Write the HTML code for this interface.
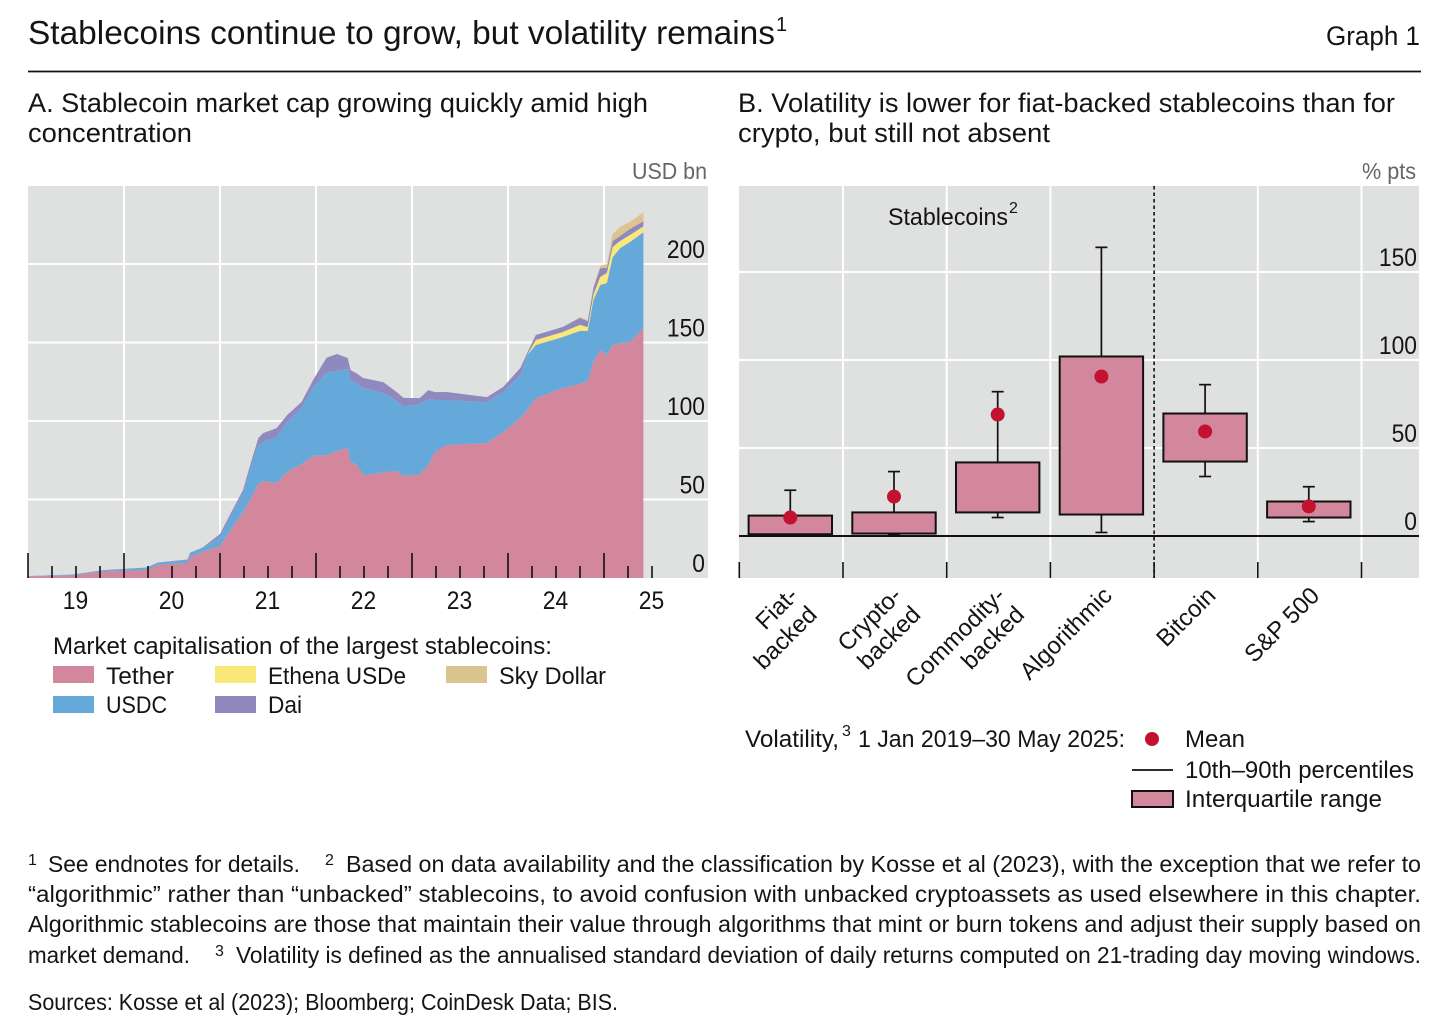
<!DOCTYPE html>
<html lang="en">
<head>
<meta charset="utf-8">
<title>Stablecoins continue to grow, but volatility remains</title>
<style>
html,body{margin:0;padding:0;background:#fff;}
svg{display:block;}
text{font-family:"Liberation Sans",sans-serif;fill:#141414;}
.title{font-size:33px;}
.panel{font-size:27px;}
.tick{font-size:25px;}
.cat{font-size:24px;}
.unit{font-size:23px;fill:#666;}
.leg{font-size:24px;}
.note{font-size:23px;}
.sup{font-size:16px;}
</style>
</head>
<body>
<svg id="graph" xmlns="http://www.w3.org/2000/svg" width="1456" height="1031" viewBox="0 0 1456 1031">
  <rect x="0" y="0" width="1456" height="1031" fill="#fff"/>
  <text class="title" x="28" y="44" textLength="747" lengthAdjust="spacingAndGlyphs">Stablecoins continue to grow, but volatility remains</text>
  <text style="font-size:20px" x="776" y="31">1</text>
  <text x="1326" y="45" style="font-size:27px" textLength="94" lengthAdjust="spacingAndGlyphs">Graph 1</text>
  <line x1="28" x2="1421" y1="71.5" y2="71.5" stroke="#111" stroke-width="1.8"/>

  <text class="panel" x="28" y="112" textLength="620" lengthAdjust="spacingAndGlyphs">A. Stablecoin market cap growing quickly amid high</text>
  <text class="panel" x="28" y="142" textLength="164" lengthAdjust="spacingAndGlyphs">concentration</text>
  <text class="panel" x="738" y="112" textLength="657" lengthAdjust="spacingAndGlyphs">B. Volatility is lower for fiat-backed stablecoins than for</text>
  <text class="panel" x="738" y="142" textLength="312" lengthAdjust="spacingAndGlyphs">crypto, but still not absent</text>
  <text class="unit" x="632" y="179" textLength="75" lengthAdjust="spacingAndGlyphs">USD bn</text>
  <text class="unit" x="1362" y="179" textLength="54" lengthAdjust="spacingAndGlyphs">% pts</text>

  <g id="panelA"></g>
  <g id="panelB"></g>

  <text class="leg" x="888" y="225" textLength="120" lengthAdjust="spacingAndGlyphs">Stablecoins</text>
  <text class="sup" x="1009" y="213">2</text>

  <g>
    <text class="leg" x="53" y="654" textLength="499" lengthAdjust="spacingAndGlyphs">Market capitalisation of the largest stablecoins:</text>
    <rect x="53" y="666" width="41" height="17" fill="#d2879c"/>
    <text class="leg" x="106" y="684" textLength="68" lengthAdjust="spacingAndGlyphs">Tether</text>
    <rect x="53" y="696" width="41" height="17" fill="#65a9da"/>
    <text class="leg" x="106" y="713" textLength="61" lengthAdjust="spacingAndGlyphs">USDC</text>
    <rect x="215" y="666" width="41" height="17" fill="#f9e878"/>
    <text class="leg" x="268" y="684" textLength="138" lengthAdjust="spacingAndGlyphs">Ethena USDe</text>
    <rect x="215" y="696" width="41" height="17" fill="#9089bf"/>
    <text class="leg" x="268" y="713" textLength="34" lengthAdjust="spacingAndGlyphs">Dai</text>
    <rect x="446" y="666" width="41" height="17" fill="#dcc48e"/>
    <text class="leg" x="499" y="684" textLength="107" lengthAdjust="spacingAndGlyphs">Sky Dollar</text>
  </g>

  <g>
    <text class="leg" x="745" y="747" textLength="94" lengthAdjust="spacingAndGlyphs">Volatility,</text>
    <text class="sup" x="842" y="736">3</text>
    <text class="leg" x="858" y="747" textLength="267" lengthAdjust="spacingAndGlyphs">1 Jan 2019–30 May 2025:</text>
    <circle cx="1152" cy="739" r="7" fill="#c2122f"/>
    <text class="leg" x="1185" y="747" textLength="60" lengthAdjust="spacingAndGlyphs">Mean</text>
    <line x1="1132" x2="1173" y1="770" y2="770" stroke="#111" stroke-width="1.8"/>
    <text class="leg" x="1185" y="778" textLength="229" lengthAdjust="spacingAndGlyphs">10th–90th percentiles</text>
    <rect x="1132" y="791" width="41" height="16" fill="#d2879c" stroke="#111" stroke-width="2"/>
    <text class="leg" x="1185" y="807" textLength="197" lengthAdjust="spacingAndGlyphs">Interquartile range</text>
  </g>

  <g>
    <text class="sup" x="28" y="865">1</text>
    <text class="note" x="48" y="872" textLength="252" lengthAdjust="spacingAndGlyphs">See endnotes for details.</text>
    <text class="sup" x="325" y="865">2</text>
    <text class="note" x="346" y="872" textLength="1075" lengthAdjust="spacingAndGlyphs">Based on data availability and the classification by Kosse et al (2023), with the exception that we refer to</text>
    <text class="note" x="28" y="902" textLength="1393" lengthAdjust="spacingAndGlyphs">“algorithmic” rather than “unbacked” stablecoins, to avoid confusion with unbacked cryptoassets as used elsewhere in this chapter.</text>
    <text class="note" x="28" y="932" textLength="1393" lengthAdjust="spacingAndGlyphs">Algorithmic stablecoins are those that maintain their value through algorithms that mint or burn tokens and adjust their supply based on</text>
    <text class="note" x="28" y="963" textLength="162" lengthAdjust="spacingAndGlyphs">market demand.</text>
    <text class="sup" x="215" y="956">3</text>
    <text class="note" x="236" y="963" textLength="1185" lengthAdjust="spacingAndGlyphs">Volatility is defined as the annualised standard deviation of daily returns computed on 21-trading day moving windows.</text>
    <text class="note" x="28" y="1010" textLength="590" lengthAdjust="spacingAndGlyphs">Sources: Kosse et al (2023); Bloomberg; CoinDesk Data; BIS.</text>
  </g>
</svg>
<script>
// Panel A data (USD bn, layer thickness per coin)
var dates = [2019.00,2019.47,2019.78,2020.24,2020.35,2020.66,2020.69,2020.82,2021.00,2021.13,2021.24,2021.31,2021.40,2021.45,2021.59,2021.70,2021.85,2021.97,2022.11,2022.22,2022.33,2022.36,2022.43,2022.49,2022.70,2022.84,2022.91,2023.08,2023.17,2023.24,2023.36,2023.78,2023.95,2024.13,2024.20,2024.29,2024.57,2024.75,2024.83,2024.89,2024.96,2025.03,2025.09,2025.17,2025.27,2025.41];
var tether = [1,1.6,4.1,5.1,8.3,9.6,13.4,16.6,20.4,32.5,42,49.7,59.9,61.8,60.5,67.5,72.6,77.7,78.3,80.9,82.8,73.9,72,65.6,67.2,68.2,65,66.2,72,80.3,84.7,86,93,102,107,114.6,121,123.6,125.5,137.6,145.2,142,148.4,149.7,150.3,159.2];
var usdc = [0.1,0.5,0.6,1.3,1.3,1.9,2.5,2.5,5.7,8.9,12.1,19,24.8,24.8,29.3,31.8,35.7,43.9,52.5,51,50.3,52.2,51.6,55.4,50.6,44.6,44,44.6,42,33,28.7,26,25.5,27.4,35,33.8,32.5,33.8,31.8,39.5,41.4,45.9,56,60.5,63.7,61];
var ethena = [0,0,0,0,0,0,0,0,0,0,0,0,0,0,0,0,0,0,0,0,0,0,0,0,0,0,0,0,0,0,0,0,0,0,0,3.2,3.2,3.8,2.5,3.2,5.1,6.4,6.4,4.5,4.5,3.8];
var dai = [0.2,0.1,0.3,0.3,0.3,0.3,0.3,0.3,1.9,1.9,1.9,2.5,4.5,5.7,5.7,4.5,3.8,4.5,9.6,10.8,7,6.4,6.4,6.4,7,5.7,5.7,3.8,5.7,5.1,5.1,3.2,3.2,4.5,1.3,3.2,3.2,4.5,3.8,4.5,5.7,3.2,3.8,3.2,3.8,3.2];
var sky = [0,0,0,0,0,0,0,0,0,0,0,0,0,0,0,0,0,0,0,0,0,0,0,0,0,0,0,0,0,0,0,0,0,0,0,0,0,0.6,0.6,0.6,1.3,2.5,4.5,5.7,4.5,5.7];
var yTicksA = [50,100,150,200];
var yLabelsA = [0,50,100,150,200];
var yearLabels = ["19","20","21","22","23","24","25"];

// Panel B data (percentage points)
var categories = ["fiat-backed","crypto-backed","commodity-backed","algorithmic","bitcoin","sp500"];
var q3Values = [11.6,13.4,41.8,102,69.6,19.6];
var q1Values = [1,1.4,13.4,12.2,42.3,10.5];
var p90Values = [26,36.6,82,164,86,28];
var p10Values = [0.3,0.5,10.5,2,33.8,8.2];
var meanValues = [10.5,22.4,69,90.6,59.4,16.8];
var yTicksB = [50,100,150];
var yLabelsB = [0,50,100,150];
var catLabels = [["Fiat-","backed"],["Crypto-","backed"],["Commodity-","backed"],["Algorithmic"],["Bitcoin"],["S&P 500"]];

var NS = "http://www.w3.org/2000/svg";
function mk(parent, tag, attrs) {
  var e = document.createElementNS(NS, tag);
  for (var k in attrs) e.setAttribute(k, attrs[k]);
  parent.appendChild(e);
  return e;
}
var GRID = "#ffffff", BG = "#dfe0e0", INK = "#111111";
function tickWidth(v) { return String(v).length * 12.7; }

// ---------- Panel A ----------
var A = document.getElementById("panelA");
function xA(d) { return 28 + (d - 2019) * 96; }
function yA(v) { return 578 - v * 1.57; }

var bgA = mk(A, "rect", {x:28, y:186, width:680, height:392, fill:BG});



yTicksA.forEach(function (v) {
  var g = mk(A, "line", {x1:28, x2:708, y1:yA(v), y2:yA(v), stroke:GRID, "stroke-width":2});
  
  
});
yearLabels.forEach(function (lab, i) {
  if (i === 0) return;
  var xp = xA(2019 + i);
  var g = mk(A, "line", {x1:xp, x2:xp, y1:186, y2:578, stroke:GRID, "stroke-width":2});
  
  
});

var layers = [
  {n:"tether", v:tether, c:"#d2879c"},
  {n:"usdc", v:usdc, c:"#65a9da"},
  {n:"ethena", v:ethena, c:"#f9e878"},
  {n:"dai", v:dai, c:"#9089bf"},
  {n:"sky", v:sky, c:"#dcc48e"}
];
var base = dates.map(function () { return 0; });
layers.forEach(function (layer) {
  var top = base.map(function (b, i) { return b + layer.v[i]; });
  var pts = [];
  dates.forEach(function (d, i) { pts.push(xA(d).toFixed(1) + "," + yA(top[i]).toFixed(1)); });
  for (var i = dates.length - 1; i >= 0; i--) pts.push(xA(dates[i]).toFixed(1) + "," + yA(base[i]).toFixed(1));
  var area = mk(A, "polygon", {points:pts.join(" "), fill:layer.c});
  
  
  base = top;
});

for (var q = 0; q <= 26; q++) {
  var major = q % 4 === 0;
  var tx = xA(2019 + q / 4);
  var tk = mk(A, "line", {x1:tx, x2:tx, y1:major ? 553 : 566, y2:578, stroke:INK, "stroke-width":1.6});
  
  
}
yearLabels.forEach(function (lab, i) {
  var t = mk(A, "text", {"class":"tick", x:xA(2019 + i + 0.5) - 13.2, y:609, textLength:25.4, lengthAdjust:"spacingAndGlyphs"});
  t.textContent = lab;
  
  
});
yLabelsA.forEach(function (v) {
  var t = mk(A, "text", {"class":"tick", x:705 - tickWidth(v), y:yA(v) - 6, textLength:tickWidth(v), lengthAdjust:"spacingAndGlyphs"});
  t.textContent = v;
  
  
});

// ---------- Panel B ----------
var B = document.getElementById("panelB");
var bandW = 103.7, x0B = 739.3;
function bandX(i) { return x0B + bandW * i; }
function cx(i) { return bandX(i) + 51; }
function yB(v) { return 536 - v * 1.76; }

var bgB = mk(B, "rect", {x:739, y:186, width:680, height:392, fill:BG});



yTicksB.forEach(function (v) {
  var g = mk(B, "line", {x1:739, x2:1419, y1:yB(v), y2:yB(v), stroke:GRID, "stroke-width":2});
  
  
});
for (var j = 1; j <= categories.length; j++) {
  if (j === 4) continue;
  var gv = mk(B, "line", {x1:bandX(j), x2:bandX(j), y1:186, y2:578, stroke:GRID, "stroke-width":2});
  
  
}
for (var m = 0; m <= categories.length; m++) {
  var bt = mk(B, "line", {x1:bandX(m), x2:bandX(m), y1:562, y2:578, stroke:INK, "stroke-width":1.6});
  
  
}
var divider = mk(B, "line", {x1:bandX(4), x2:bandX(4), y1:186, y2:578, stroke:INK, "stroke-width":1.6, "stroke-dasharray":"3.5 3"});



categories.forEach(function (cat, i) {
  var c = cx(i);
  var wh = mk(B, "line", {x1:c, x2:c, y1:yB(p90Values[i]), y2:yB(p10Values[i]), stroke:INK, "stroke-width":1.7});
  
  
  var capT = mk(B, "line", {x1:c - 6, x2:c + 6, y1:yB(p90Values[i]), y2:yB(p90Values[i]), stroke:INK, "stroke-width":1.7});
  
  
  var capB = mk(B, "line", {x1:c - 6, x2:c + 6, y1:yB(p10Values[i]), y2:yB(p10Values[i]), stroke:INK, "stroke-width":1.7});
  
  
  var box = mk(B, "rect", {x:c - 41.7, y:yB(q3Values[i]), width:83.4, height:yB(q1Values[i]) - yB(q3Values[i]), fill:"#d2879c", stroke:INK, "stroke-width":2});
  
  
});
var zero = mk(B, "line", {x1:739, x2:1419, y1:yB(0), y2:yB(0), stroke:INK, "stroke-width":2});


categories.forEach(function (cat, i) {
  var dot = mk(B, "circle", {cx:cx(i), cy:yB(meanValues[i]), r:7, fill:"#c2122f"});
  
  
});
yLabelsB.forEach(function (v) {
  var t = mk(B, "text", {"class":"tick", x:1417 - tickWidth(v), y:yB(v) - 6, textLength:tickWidth(v), lengthAdjust:"spacingAndGlyphs"});
  t.textContent = v;
  
  
});
catLabels.forEach(function (lines, i) {
  var ex = bandX(i) + 75, ey = 600;
  lines.forEach(function (ln, k) {
    var px, py;
    if (lines.length === 2) {
      px = k === 0 ? ex - 15 : ex + 4;
      py = k === 0 ? ey - 3 : ey + 16;
    } else {
      px = bandX(i) + 63;
      py = ey - 3;
    }
    var t = mk(B, "text", {"class":"cat", x:px, y:py, "text-anchor":"end", transform:"rotate(-45 " + px + " " + py + ")"});
    t.textContent = ln;
    
    
  });
});
</script>
</body>
</html>
